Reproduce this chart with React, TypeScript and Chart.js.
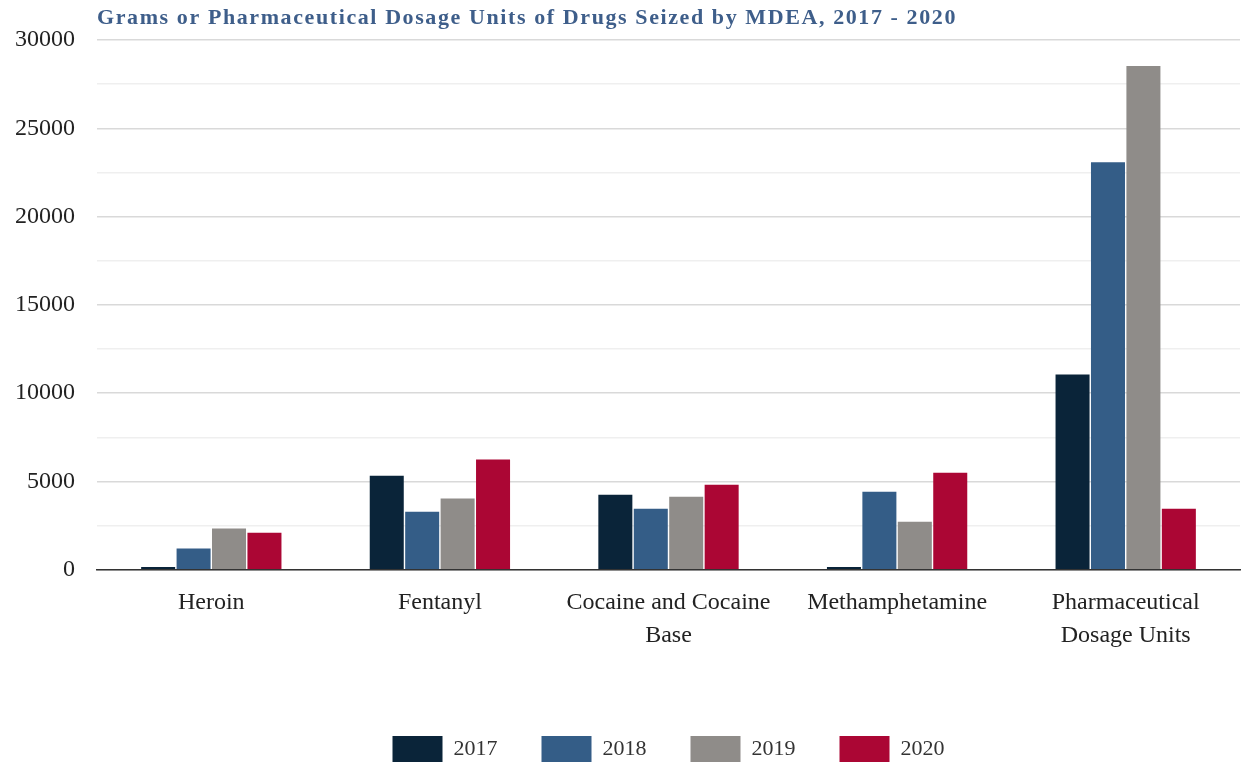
import React, { useEffect, useRef } from "react";
import { Chart, registerables } from "chart.js";

Chart.register(...registerables);

const TITLE = "Grams or Pharmaceutical Dosage Units of Drugs Seized by MDEA, 2017 - 2020";
const categories: (string | string[])[] = [
  "Heroin",
  "Fentanyl",
  ["Cocaine and Cocaine", "Base"],
  "Methamphetamine",
  ["Pharmaceutical", "Dosage Units"],
];
const seriesNames = ["2017", "2018", "2019", "2020"];
const values2017 = [150, 5330, 4250, 150, 11060];
const values2018 = [1200, 3290, 3460, 4420, 23080];
const values2019 = [2330, 4030, 4140, 2720, 28530];
const values2020 = [2100, 6240, 4820, 5500, 3460];
const colors = ["#0A2439", "#345D87", "#8F8C89", "#AB0634"];
const yMax = 30000;
const yStep = 2500;
const yLabelStep = 5000;

const FONT = "'Liberation Serif', 'DejaVu Serif', serif";

const titlePlugin = {
  id: "leftTitle",
  afterDraw(chart: any) {
    const ctx = chart.ctx;
    ctx.save();
    ctx.font = `bold 22px ${FONT}`;
    ctx.fillStyle = "#3E5E8A";
    ctx.textBaseline = "middle";
    ctx.textAlign = "left";
    const w = ctx.measureText(TITLE).width;
    const target = 860;
    (ctx as any).letterSpacing = `${Math.max(0, (target - w) / TITLE.length)}px`;
    ctx.fillText(TITLE, chart.chartArea.left, 18);
    ctx.restore();
  },
};

export default function App() {
  const ref = useRef<HTMLCanvasElement | null>(null);
  useEffect(() => {
    if (!ref.current) return;
    const all = [values2017, values2018, values2019, values2020];
    const chart = new Chart(ref.current, {
      type: "bar",
      data: {
        labels: categories,
        datasets: seriesNames.map((n, i) => ({
          label: n,
          data: all[i],
          backgroundColor: colors[i],
          borderWidth: 0,
          barPercentage: 0.96,
          categoryPercentage: 0.62,
        })),
      },
      options: {
        animation: false,
        responsive: false,
        maintainAspectRatio: false,
        layout: { padding: { top: 40, left: 8, right: 4, bottom: -6 } },
        plugins: {
          title: { display: false },
          tooltip: { enabled: false },
          legend: {
            position: "bottom",
            fullSize: false,
            labels: {
              boxWidth: 50,
              boxHeight: 26,
              padding: 44,
              color: "#333",
              font: { family: FONT, size: 22 },
            },
          },
        },
        scales: {
          x: {
            grid: { display: false },
            border: { display: true, color: "#333", width: 1.5 },
            ticks: {
              color: "#222",
              padding: 8,
              maxRotation: 0,
              autoSkip: false,
              font: { family: FONT, size: 24, lineHeight: 1.38 },
            },
            afterFit: (s: any) => {
              s.height += 32;
            },
          },
          y: {
            min: 0,
            max: yMax,
            border: { display: false },
            grid: {
              drawTicks: false,
              color: (c: any) =>
                c.tick && c.tick.value % yLabelStep === 0 ? "#D9D9D9" : "#EFEFEF",
              lineWidth: 1.5,
            },
            ticks: {
              stepSize: yStep,
              padding: 22,
              color: "#222",
              font: { family: FONT, size: 24 },
              callback: (v: any) => (Number(v) % yLabelStep === 0 ? String(v) : ""),
            },
            afterFit: (s: any) => {
              s.width = 89;
            },
          },
        },
      },
      plugins: [titlePlugin],
    });
    return () => chart.destroy();
  }, []);
  return (
    <div style={{ position: "fixed", left: 0, top: 0, width: 1244, height: 766, background: "#fff" }}>
      <canvas ref={ref} width={1244} height={766} style={{ width: 1244, height: 766 }} />
    </div>
  );
}
